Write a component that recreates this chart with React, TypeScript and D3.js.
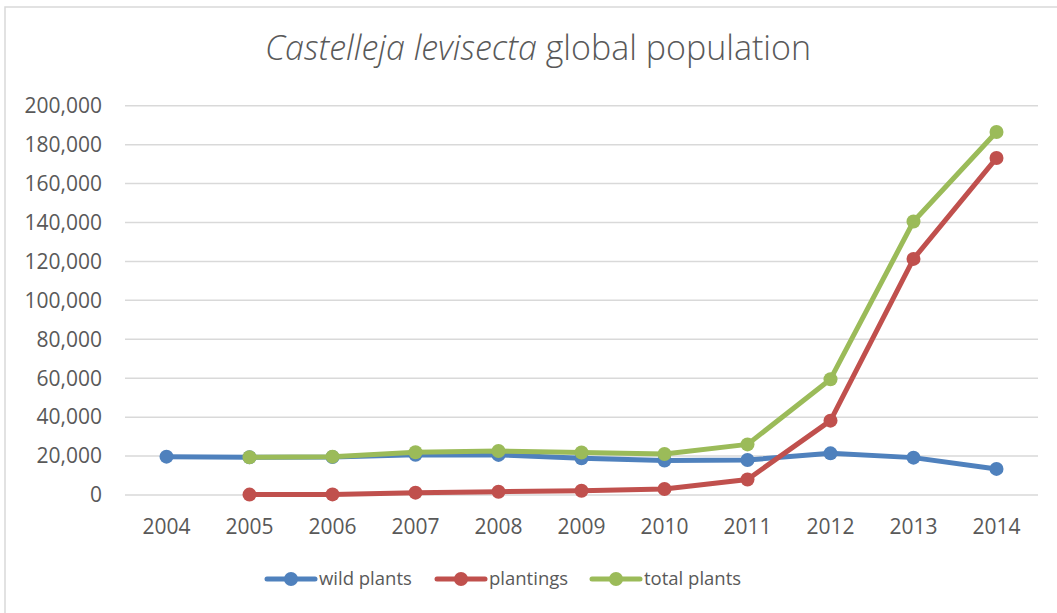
import React from "react";
import * as d3 from "d3";

const years = ["2004", "2005", "2006", "2007", "2008", "2009", "2010", "2011", "2012", "2013", "2014"];
const wildPlants: (number | null)[] = [19700, 19400, 19500, 20700, 20600, 18900, 17700, 18000, 21400, 19200, 13400];
const plantings: (number | null)[] = [null, 200, 300, 1200, 1700, 2200, 3100, 8000, 38200, 121300, 173100];
const totalPlants: (number | null)[] = [null, 19400, 19700, 22000, 22600, 21800, 21100, 26000, 59500, 140500, 186500];
const yTicks = [0, 20000, 40000, 60000, 80000, 100000, 120000, 140000, 160000, 180000, 200000];

const seriesList = [
  { name: "wild plants", values: wildPlants, color: "#4f81bd" },
  { name: "plantings", values: plantings, color: "#c0504d" },
  { name: "total plants", values: totalPlants, color: "#9bbb59" },
];

const W = 1057;
const H = 613;
const plot = { left: 125, right: 1038, top: 105.7, bottom: 495 };
const font = "'Open Sans', sans-serif";
const textColor = "#595959";

export default function App() {
  const x = d3.scaleBand<string>().domain(years).range([plot.left, plot.right]);
  const y = d3.scaleLinear().domain([0, 200000]).range([plot.bottom, plot.top]);
  const fmt = d3.format(",");
  const cx = (i: number) => (x(years[i]) as number) + x.bandwidth() / 2;

  const line = d3
    .line<number | null>()
    .defined((d) => d !== null)
    .x((_, i) => cx(i))
    .y((d) => y(d as number));

  const legendItems = [
    { x0: 267, tx: 319 },
    { x0: 437, tx: 489 },
    { x0: 592, tx: 644 },
  ];

  return (
    <svg
      width={W}
      height={H}
      style={{ position: "absolute", left: 0, top: 0, background: "#fff" }}
      fontFamily={font}
    >
      <rect x={0} y={0} width={W} height={H} fill="#fff" />
      <rect x={5} y={7} width={W + 10} height={H + 10} fill="none" stroke="#d9d9d9" strokeWidth={1.5} />
      <text x={538} y={60} textAnchor="middle" fontSize={34} fill={textColor} fontWeight={300}>
        <tspan fontStyle="italic">Castelleja levisecta</tspan>
        <tspan> global population</tspan>
      </text>
      {yTicks.map((t) => (
        <g key={t}>
          <line x1={plot.left} x2={plot.right} y1={y(t)} y2={y(t)} stroke="#d9d9d9" strokeWidth={1.5} />
          <text x={102} y={y(t)} dy="0.35em" textAnchor="end" fontSize={21} fill={textColor}>
            {fmt(t)}
          </text>
        </g>
      ))}
      {years.map((yr, i) => (
        <text key={yr} x={cx(i)} y={534} textAnchor="middle" fontSize={21} fill={textColor}>
          {yr}
        </text>
      ))}
      {seriesList.map((s) => (
        <g key={s.name}>
          <path
            d={line(s.values) || ""}
            fill="none"
            stroke={s.color}
            strokeWidth={5}
            strokeLinejoin="round"
            strokeLinecap="round"
          />
          {s.values.map((v, i) =>
            v === null ? null : <circle key={i} cx={cx(i)} cy={y(v)} r={7} fill={s.color} />
          )}
        </g>
      ))}
      {seriesList.map((s, i) => (
        <g key={"leg" + s.name}>
          <line
            x1={legendItems[i].x0}
            x2={legendItems[i].x0 + 48}
            y1={579}
            y2={579}
            stroke={s.color}
            strokeWidth={5}
            strokeLinecap="round"
          />
          <circle cx={legendItems[i].x0 + 24} cy={579} r={7} fill={s.color} />
          <text x={legendItems[i].tx} y={579} dy="0.35em" fontSize={18.5} fill={textColor}>
            {s.name}
          </text>
        </g>
      ))}
    </svg>
  );
}
